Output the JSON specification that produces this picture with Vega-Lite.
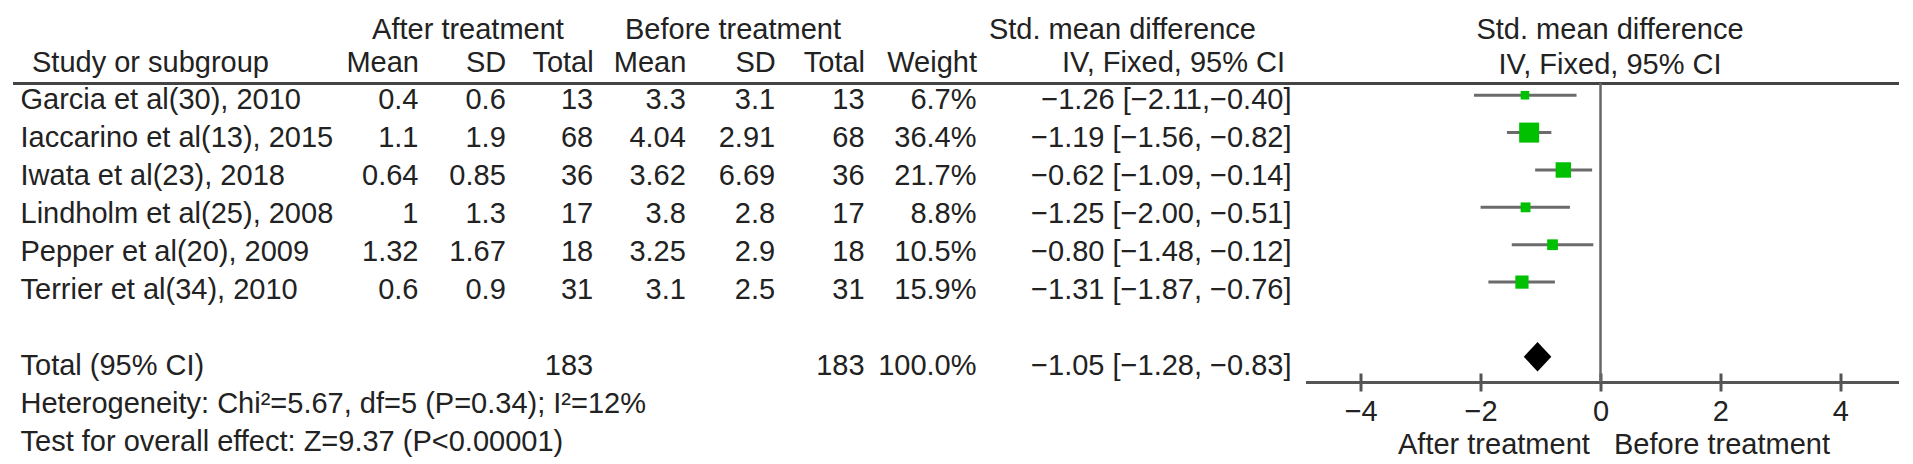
{
  "$schema": "https://vega.github.io/schema/vega-lite/v6.json",
  "autosize": {"type": "pad"},
  "padding": {"left": 12.5, "top": 15, "right": 0, "bottom": 0},
  "background": "white",
  "spacing": 0,
  "bounds": "flush",
  "datasets": {
    "studies": [
      {"study": "Garcia et al(30), 2010", "am": "0.4", "asd": "0.6", "at": "13", "bm": "3.3", "bsd": "3.1", "bt": "13", "weight": "6.7%", "ci": "−1.26 [−2.11,−0.40]", "smd": -1.26, "lo": -2.11, "hi": -0.40, "w": 6.7},
      {"study": "Iaccarino et al(13), 2015", "am": "1.1", "asd": "1.9", "at": "68", "bm": "4.04", "bsd": "2.91", "bt": "68", "weight": "36.4%", "ci": "−1.19 [−1.56, −0.82]", "smd": -1.19, "lo": -1.56, "hi": -0.82, "w": 36.4},
      {"study": "Iwata et al(23), 2018", "am": "0.64", "asd": "0.85", "at": "36", "bm": "3.62", "bsd": "6.69", "bt": "36", "weight": "21.7%", "ci": "−0.62 [−1.09, −0.14]", "smd": -0.62, "lo": -1.09, "hi": -0.14, "w": 21.7},
      {"study": "Lindholm et al(25), 2008", "am": "1", "asd": "1.3", "at": "17", "bm": "3.8", "bsd": "2.8", "bt": "17", "weight": "8.8%", "ci": "−1.25 [−2.00, −0.51]", "smd": -1.25, "lo": -2.00, "hi": -0.51, "w": 8.8},
      {"study": "Pepper et al(20), 2009", "am": "1.32", "asd": "1.67", "at": "18", "bm": "3.25", "bsd": "2.9", "bt": "18", "weight": "10.5%", "ci": "−0.80 [−1.48, −0.12]", "smd": -0.80, "lo": -1.48, "hi": -0.12, "w": 10.5},
      {"study": "Terrier et al(34), 2010", "am": "0.6", "asd": "0.9", "at": "31", "bm": "3.1", "bsd": "2.5", "bt": "31", "weight": "15.9%", "ci": "−1.31 [−1.87, −0.76]", "smd": -1.31, "lo": -1.87, "hi": -0.76, "w": 15.9},
      {"study": "Total (95% CI)", "am": "", "asd": "", "at": "183", "bm": "", "bsd": "", "bt": "183", "weight": "100.0%", "ci": "−1.05 [−1.28, −0.83]", "smd": -1.05, "lo": -1.28, "hi": -0.83, "w": 100}
    ],
    "notes": [
      {"study": "het", "text": "Heterogeneity: Chi²=5.67, df=5 (P=0.34); I²=12%"},
      {"study": "test", "text": "Test for overall effect: Z=9.37 (P<0.00001)"}
    ]
  },
  "config": {
    "view": {"stroke": null},
    "font": "Liberation Sans",
    "axis": {
      "labelFont": "Liberation Sans", "titleFont": "Liberation Sans",
      "labelFontSize": 29, "titleFontSize": 29, "titleFontWeight": "normal",
      "labelColor": "#222", "titleColor": "#222", "grid": false,
      "labelLimit": 1000, "titleLimit": 1000, "labelOverlap": false, "labelAngle": 0
    },
    "text": {"font": "Liberation Sans", "fontSize": 29, "color": "#222", "baseline": "middle"}
  },
  "hconcat": [
    {
      "width": 324, "height": 381,
      "layer": [
        {
          "data": {"name": "studies"},
          "mark": {"type": "text", "align": "left"},
          "encoding": {
            "x": {"datum": "Study or subgroup", "type": "nominal",
              "scale": {"type": "point", "domain": ["Study or subgroup"], "paddingOuter": 0, "align": 0.0247},
              "axis": {"orient": "top", "ticks": false, "tickSize": 0, "domainColor": "#444", "domainWidth": 3, "labelAlign": "left", "labelOffset": 11, "labelBaseline": "alphabetic", "labelPadding": 12, "title": null}},
            "y": {"field": "study", "type": "nominal",
              "scale": {"type": "point", "domain": ["Garcia et al(30), 2010", "Iaccarino et al(13), 2015", "Iwata et al(23), 2018", "Lindholm et al(25), 2008", "Pepper et al(20), 2009", "Terrier et al(34), 2010", " ", "Total (95% CI)", "het", "test"], "paddingOuter": 0.9429, "align": 0.435},
              "axis": null},
            "text": {"field": "study"}
          }
        },
        {
          "data": {"name": "notes"},
          "mark": {"type": "text", "align": "left"},
          "encoding": {
            "x": {"datum": "Study or subgroup", "type": "nominal"},
            "y": {"field": "study", "type": "nominal"},
            "text": {"field": "text"}
          }
        }
      ]
    },
    {
      "width": 262, "height": 381,
      "data": {"name": "studies"},
      "transform": [
        {"fold": ["am", "asd", "at"], "as": ["col", "val"]},
        {"filter": "datum.val != ''"}
      ],
      "mark": {"type": "text", "align": "right"},
      "encoding": {
        "x": {"field": "col", "type": "nominal",
          "scale": {"type": "point", "domain": ["am", "asd", "at"], "paddingOuter": 0.5976, "align": 0.9388},
          "axis": {"orient": "top", "ticks": false, "tickSize": 0, "domainColor": "#444", "domainWidth": 3, "labelAlign": "right", "labelBaseline": "alphabetic", "labelPadding": 12,
            "labelExpr": "datum.value == 'am' ? 'Mean' : datum.value == 'asd' ? 'SD' : 'Total'",
            "title": "After treatment", "titleBaseline": "alphabetic", "titleY": -45}},
        "y": {"field": "study", "type": "nominal",
          "scale": {"type": "point", "domain": ["Garcia et al(30), 2010", "Iaccarino et al(13), 2015", "Iwata et al(23), 2018", "Lindholm et al(25), 2008", "Pepper et al(20), 2009", "Terrier et al(34), 2010", " ", "Total (95% CI)", "het", "test"], "paddingOuter": 0.9429, "align": 0.435},
          "axis": null},
        "text": {"field": "val"}
      }
    },
    {
      "width": 268, "height": 381,
      "data": {"name": "studies"},
      "transform": [
        {"fold": ["bm", "bsd", "bt"], "as": ["col", "val"]},
        {"filter": "datum.val != ''"}
      ],
      "mark": {"type": "text", "align": "right"},
      "encoding": {
        "x": {"field": "col", "type": "nominal",
          "scale": {"type": "point", "domain": ["bm", "bsd", "bt"], "paddingOuter": 0.5056, "align": 0.9778},
          "axis": {"orient": "top", "ticks": false, "tickSize": 0, "domainColor": "#444", "domainWidth": 3, "labelAlign": "right", "labelBaseline": "alphabetic", "labelPadding": 12,
            "labelExpr": "datum.value == 'bm' ? 'Mean' : datum.value == 'bsd' ? 'SD' : 'Total'",
            "title": "Before treatment", "titleBaseline": "alphabetic", "titleY": -45}},
        "y": {"field": "study", "type": "nominal",
          "scale": {"type": "point", "domain": ["Garcia et al(30), 2010", "Iaccarino et al(13), 2015", "Iwata et al(23), 2018", "Lindholm et al(25), 2008", "Pepper et al(20), 2009", "Terrier et al(34), 2010", " ", "Total (95% CI)", "het", "test"], "paddingOuter": 0.9429, "align": 0.435},
          "axis": null},
        "text": {"field": "val"}
      }
    },
    {
      "width": 132, "height": 381,
      "data": {"name": "studies"},
      "mark": {"type": "text", "align": "right"},
      "encoding": {
        "x": {"datum": "Weight", "type": "nominal",
          "scale": {"type": "point", "domain": ["Weight"], "paddingOuter": 0, "align": 0.8333},
          "axis": {"orient": "top", "ticks": false, "tickSize": 0, "domainColor": "#444", "domainWidth": 3, "labelAlign": "right", "labelBaseline": "alphabetic", "labelPadding": 12, "title": null}},
        "y": {"field": "study", "type": "nominal",
          "scale": {"type": "point", "domain": ["Garcia et al(30), 2010", "Iaccarino et al(13), 2015", "Iwata et al(23), 2018", "Lindholm et al(25), 2008", "Pepper et al(20), 2009", "Terrier et al(34), 2010", " ", "Total (95% CI)", "het", "test"], "paddingOuter": 0.9429, "align": 0.435},
          "axis": null},
        "text": {"field": "weight"}
      }
    },
    {
      "width": 307, "height": 381,
      "data": {"name": "studies"},
      "mark": {"type": "text", "align": "right"},
      "encoding": {
        "x": {"datum": "IV, Fixed, 95% CI", "type": "nominal",
          "scale": {"type": "point", "domain": ["IV, Fixed, 95% CI"], "paddingOuter": 0, "align": 0.9544},
          "axis": {"orient": "top", "ticks": false, "tickSize": 0, "domainColor": "#444", "domainWidth": 3, "labelAlign": "right", "labelOffset": -7, "labelBaseline": "alphabetic", "labelPadding": 12,
            "title": "Std. mean difference", "titleBaseline": "alphabetic", "titleY": -45, "titleX": 257, "titleAlign": "right"}},
        "y": {"field": "study", "type": "nominal",
          "scale": {"type": "point", "domain": ["Garcia et al(30), 2010", "Iaccarino et al(13), 2015", "Iwata et al(23), 2018", "Lindholm et al(25), 2008", "Pepper et al(20), 2009", "Terrier et al(34), 2010", " ", "Total (95% CI)", "het", "test"], "paddingOuter": 0.9429, "align": 0.435},
          "axis": null},
        "text": {"field": "ci"}
      }
    },
    {
      "width": 593, "height": 299,
      "resolve": {"axis": {"x": "independent"}},
      "layer": [
        {
          "data": {"values": [{"effect": 0}]},
          "mark": {"type": "rule", "color": "#666", "strokeWidth": 2.5},
          "encoding": {
            "x": {"field": "effect", "type": "quantitative", "scale": {"domain": [-4.92, 4.97], "nice": false, "zero": false}, "axis": null}
          }
        },
        {
          "data": {"name": "studies"},
          "transform": [{"filter": "datum.study != 'Total (95% CI)'"}],
          "mark": {"type": "rule", "color": "#6b6b6b", "strokeWidth": 3},
          "encoding": {
            "x": {"field": "lo", "type": "quantitative",
              "axis": {"orient": "bottom", "values": [-4, -2, 0, 2, 4], "domainColor": "#555", "domainWidth": 3, "tickColor": "#555", "tickWidth": 3, "tickSize": 9, "labelPadding": 6, "labelBaseline": "top", "labelFlush": false,
                "title": "After treatment\u00a0\u00a0\u00a0Before treatment", "titleX": 308, "titleY": 48, "titleBaseline": "top", "titleAlign": "center"}},
            "x2": {"field": "hi"},
            "y": {"field": "study", "type": "nominal",
              "scale": {"type": "point", "domain": ["Garcia et al(30), 2010", "Iaccarino et al(13), 2015", "Iwata et al(23), 2018", "Lindholm et al(25), 2008", "Pepper et al(20), 2009", "Terrier et al(34), 2010", " ", "Total (95% CI)"], "paddingOuter": 0.7364, "align": 0.327},
              "axis": null}
          }
        },
        {
          "data": {"name": "studies"},
          "transform": [{"filter": "datum.study != 'Total (95% CI)'"}],
          "mark": {"type": "point", "shape": "square", "filled": true, "color": "#00c000", "opacity": 1},
          "encoding": {
            "x": {"field": "smd", "type": "quantitative",
              "axis": {"orient": "top", "ticks": false, "labels": false, "domainColor": "#444", "domainWidth": 3,
                "title": ["Std. mean difference", "IV, Fixed, 95% CI"], "titleBaseline": "alphabetic", "titleY": -45, "titleLineHeight": 35, "titleX": 304, "titleAlign": "center"}},
            "y": {"field": "study", "type": "nominal", "axis": null},
            "size": {"field": "w", "type": "quantitative", "scale": {"domain": [0, 36.4], "range": [0, 400]}, "legend": null}
          }
        },
        {
          "data": {"name": "studies"},
          "transform": [{"filter": "datum.study == 'Total (95% CI)'"}],
          "mark": {"type": "point", "shape": "M-1,0L0,-1.07L1,0L0,1.07Z", "filled": true, "color": "#000", "opacity": 1, "size": 760},
          "encoding": {
            "x": {"field": "smd", "type": "quantitative",
              "axis": {"orient": "bottom", "values": [-4, -2, 0, 2, 4], "offset": -9, "domain": false, "labels": false, "ticks": true, "tickSize": 9, "tickWidth": 3, "tickColor": "#555", "title": null}},
            "y": {"field": "study", "type": "nominal", "axis": null}
          }
        }
      ]
    }
  ]
}
